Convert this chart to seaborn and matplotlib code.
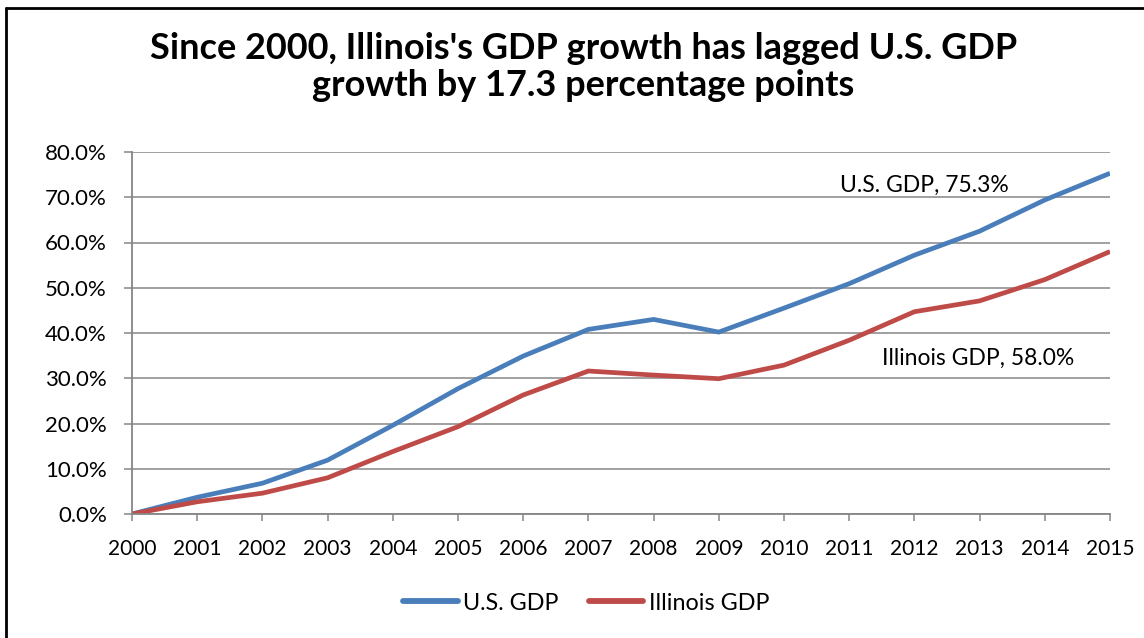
import matplotlib
matplotlib.use("Agg")
import matplotlib.pyplot as plt
import matplotlib.lines as mlines
import seaborn as sns
import pandas as pd
from matplotlib.ticker import FuncFormatter, MultipleLocator

# Cumulative GDP growth since 2000, in percent
years = list(range(2000, 2016))
us_gdp = [0.0, 3.7, 6.8, 11.9, 19.6, 27.7, 34.9, 40.8, 43.0, 40.2,
          45.5, 50.9, 57.2, 62.5, 69.4, 75.3]
il_gdp = [0.0, 2.7, 4.6, 8.0, 13.8, 19.3, 26.3, 31.6, 30.7, 29.9,
          32.9, 38.4, 44.7, 47.1, 51.8, 58.0]
series_names = ["U.S. GDP", "Illinois GDP"]
title = "Since 2000, Illinois's GDP growth has lagged U.S. GDP\ngrowth by 17.3 percentage points"

colors = {"U.S. GDP": "#4A7EBB", "Illinois GDP": "#BE4B48"}
grid_gray = "#868686"

df = pd.DataFrame({
    "year": years * 2,
    "growth": us_gdp + il_gdp,
    "series": [series_names[0]] * len(years) + [series_names[1]] * len(years),
})

sns.set_theme(style="white")
plt.rcParams["font.family"] = ["Lato", "DejaVu Sans"]
plt.rcParams["text.color"] = "black"

fig = plt.figure(figsize=(11.44, 6.38), dpi=100)
ax = fig.add_axes([132 / 1144, 1 - 514 / 638, (1110 - 132) / 1144, (514 - 152) / 638])

sns.lineplot(data=df, x="year", y="growth", hue="series", palette=colors,
             linewidth=3.4, ax=ax, legend=False, solid_capstyle="butt",
             solid_joinstyle="miter")

ax.set_xlim(years[0], years[-1])
ax.set_ylim(0, 80)
ax.yaxis.set_major_locator(MultipleLocator(10))
ax.yaxis.set_major_formatter(FuncFormatter(lambda v, _: f"{v:.1f}%"))
ax.set_xticks(years)
ax.set_xticklabels([str(y) for y in years])
ax.set_xlabel("")
ax.set_ylabel("")

ax.grid(axis="y", color=grid_gray, linewidth=1.1)
ax.set_axisbelow(True)
for side in ["top", "right"]:
    ax.spines[side].set_visible(False)
for side in ["left", "bottom"]:
    ax.spines[side].set_color(grid_gray)
    ax.spines[side].set_linewidth(1.3)
ax.tick_params(axis="both", which="major", direction="out", width=1.1,
               color=grid_gray, labelcolor="black", left=True, bottom=True)
ax.tick_params(axis="x", length=5, pad=13, labelsize=15)
ax.tick_params(axis="y", length=6, pad=12, labelsize=16)

# End-of-series labels
ax.text(2012.16, 72.7, f"U.S. GDP, {us_gdp[-1]:.1f}%", ha="center", va="center",
        fontsize=16.5, color="black")
ax.text(2012.98, 34.4, f"Illinois GDP, {il_gdp[-1]:.1f}%", ha="center", va="center",
        fontsize=16.5, color="black")

fig.text(0.51, 1 - 67 / 638, title, ha="center", va="center", color="black",
         fontsize=26, fontweight="bold", linespacing=1.16)

handles = [mlines.Line2D([], [], color=colors[n], linewidth=4.2,
                         solid_capstyle="round") for n in series_names]
fig.legend(handles, series_names, loc="center", ncol=2, frameon=False,
           bbox_to_anchor=(586 / 1144, 1 - 603 / 638), fontsize=16.8,
           handlelength=2.35, handletextpad=0.22, columnspacing=1.3)

# Outer chart border (left and top edges)
fig.add_artist(mlines.Line2D([6 / 1144, 6 / 1144], [0, 1 - 7.5 / 638],
                             transform=fig.transFigure, color="black", linewidth=2))
fig.add_artist(mlines.Line2D([6 / 1144, 1], [1 - 7.5 / 638, 1 - 7.5 / 638],
                             transform=fig.transFigure, color="black", linewidth=2))

fig.savefig("out.png", dpi=100, facecolor="white")
